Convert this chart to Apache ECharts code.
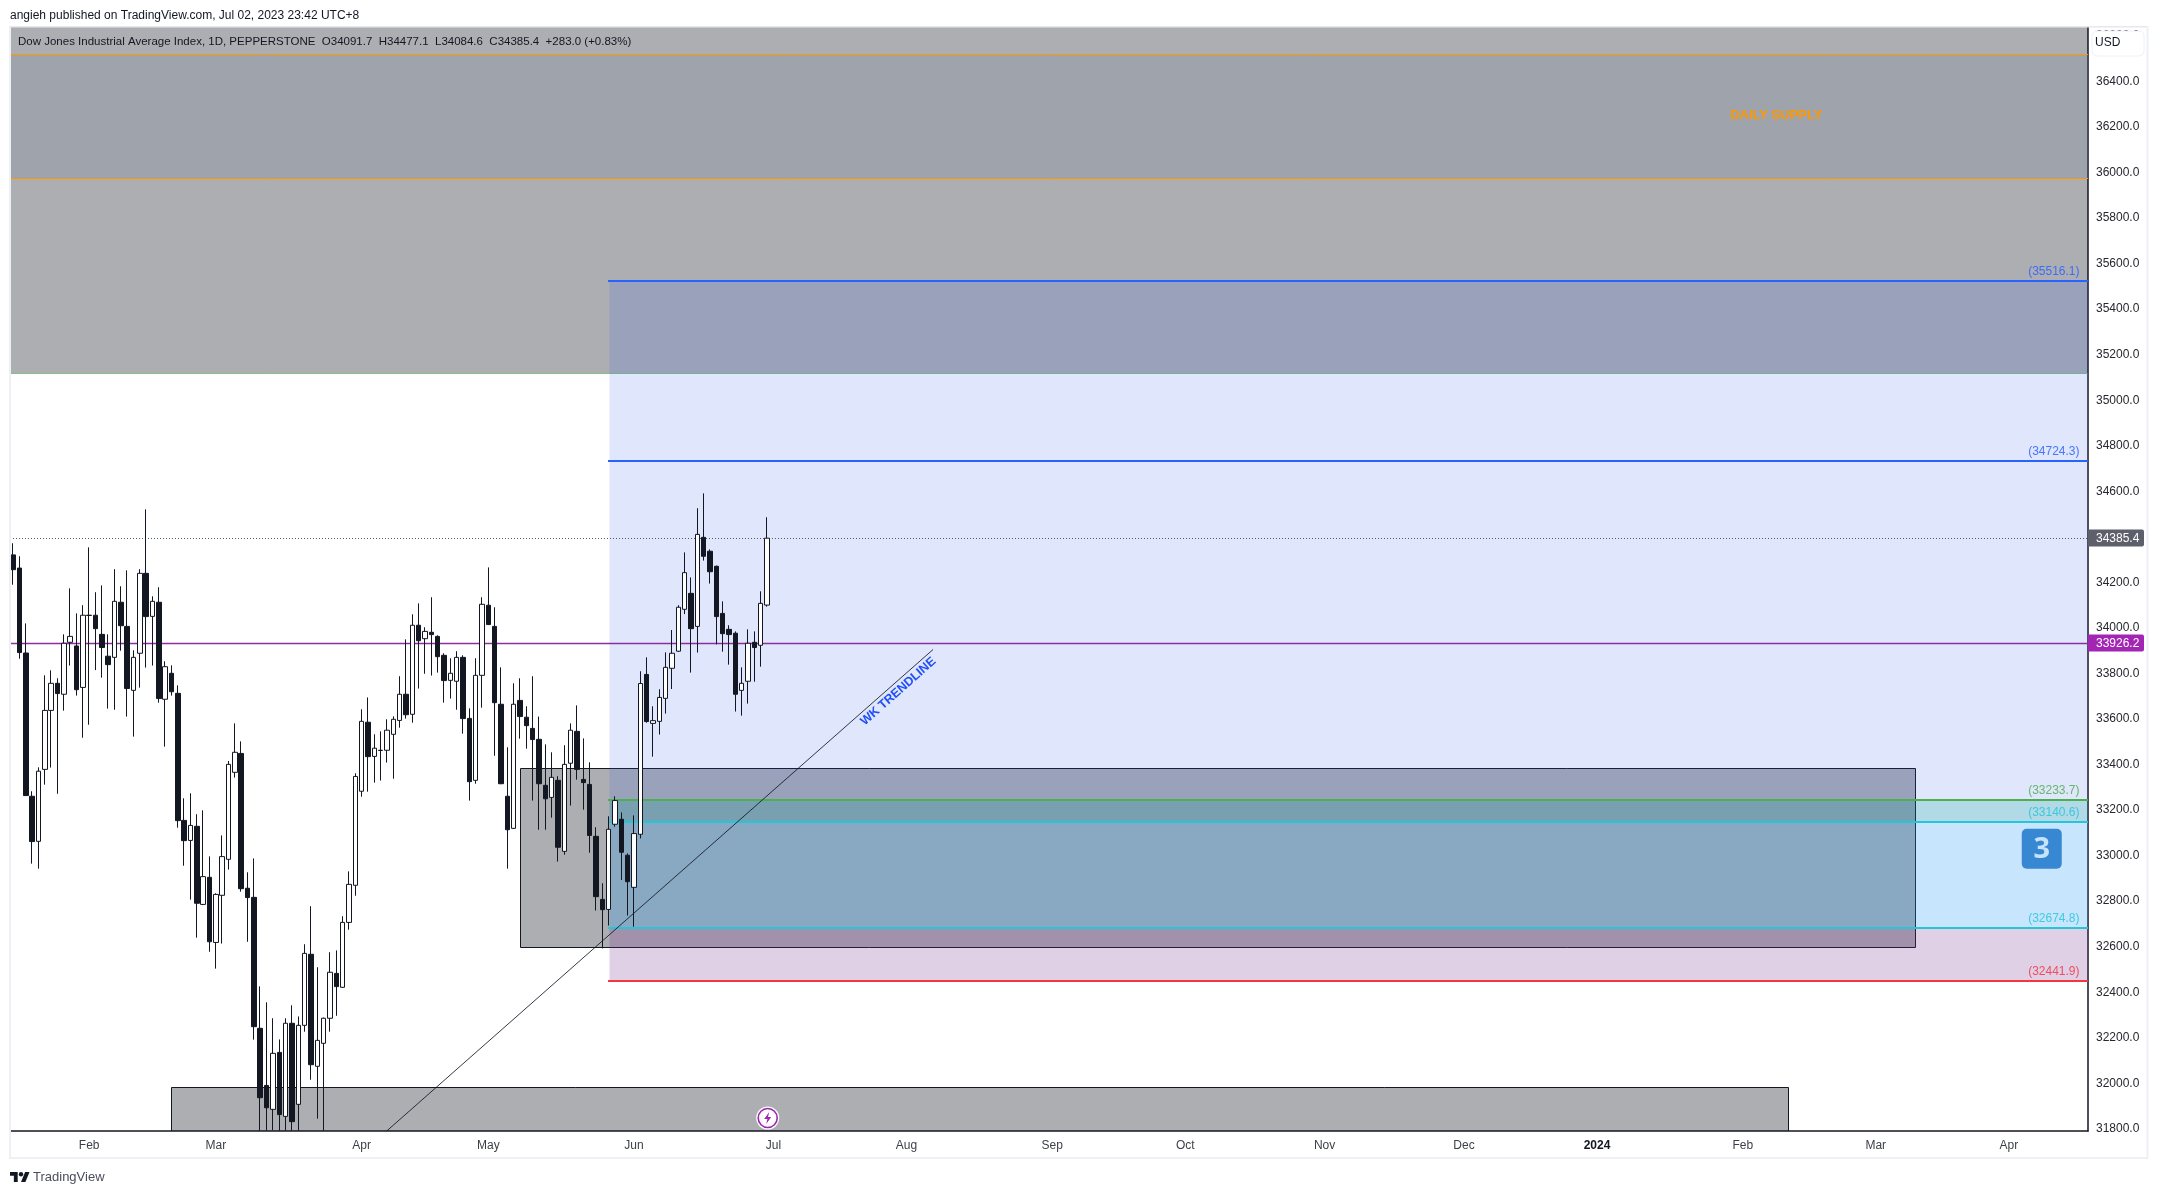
<!DOCTYPE html>
<html>
<head>
<meta charset="utf-8">
<style>html,body{margin:0;padding:0;background:#fff}#c{width:2158px;height:1194px}</style>
<script src="https://cdn.jsdelivr.net/npm/echarts@6/dist/echarts.min.js"></script>
</head>
<body>
<div id="c"></div>
<script>
// ---- candle values (prices) ----
const opens = [34312,34254,33881,33252,33054,33370,33629,33748,33700,33928,
33912,33730,34047,34047,33963,33867,33862,34104,33998,33717,
33880,34231,34042,34104,33678,33792,33704,33146,33058,33120,
32777,32896,32610,32817,32975,33357,33440,32848,32808,32233,
31982,31877,32127,31846,32255,31899,32246,32558,32066,32167,
32277,32474,32413,32698,32861,33274,33577,33427,33454,33454,
33524,33585,33700,33612,34003,33944,33972,33954,33871,33761,
33757,33862,33594,33322,33783,34091,33998,33656,33252,33111,
33673,33599,33550,33502,33300,33247,33322,33010,33397,33537,
33326,33304,33076,32799,32755,33129,33151,32993,32852,33085,
33787,33572,33581,33682,33814,33889,34073,34143,33998,34389,
34328,34262,34055,33985,33968,33717,33757,33928,33915,34091.7];
const closes = [34247,33883,33255,33053,33362,33629,33748,33703,33924,33954,
33720,34047,34046,33988,33905,33830,34108,34001,33725,33862,
34231,34041,34108,33681,33821,33711,33145,33057,33124,32782,
32899,32613,32821,32987,33392,33445,32846,32807,32240,31928,
31884,32123,31854,32255,31823,32246,32562,32073,32180,32277,
32479,32416,32698,32865,33339,33581,33426,33463,33453,33542,
33590,33700,33610,34003,33935,33976,33962,33865,33760,33792,
33862,33593,33316,33783,34095,34006,33663,33307,33105,33656,
33602,33562,33501,33307,33241,33335,33028,33392,33542,33370,
33312,33080,32811,32754,33107,33233,33006,32877,33088,33747,
33580,33584,33686,33818,33880,34082,34234,33988,34402,34306,
34238,34041,33966,33962,33700,33748,33924,33905,34099,34385.4];
const highs = [34363,34306,34011,33274,33379,33783,33805,33770,33963,34165,
34055,34091,34345,34148,34178,33963,34249,34174,34244,33893,
34249,34512,34130,34170,33845,33827,33739,33243,33265,33173,
33190,32988,32826,33080,33407,33572,33493,32918,32979,32417,
32347,32277,32184,32277,32334,32285,32602,32769,32501,32280,
32567,32575,32725,32922,33353,33634,33686,33524,33537,33590,
33603,33779,33941,34051,34099,33994,34126,33959,33880,33858,
33889,33871,33638,33858,34126,34257,34082,33818,33467,33748,
33770,33647,33779,33602,33480,33445,33340,33476,33572,33651,
33506,33401,33116,32870,33164,33252,33181,33001,33168,33801,
33862,33647,33722,33884,33982,34091,34323,34213,34517,34582,
34336,34265,34108,34003,33976,33818,33985,33976,34152,34477.1];
const lows = [34181,33856,33255,32956,32934,33303,33378,33263,33628,33826,
33694,33509,33566,33806,33773,33637,33632,33891,33602,33514,
33729,33817,33826,33663,33470,33694,33114,32947,32798,32631,
32774,32569,32495,32605,32930,33334,32833,32613,32183,31783,
31783,31786,31783,31783,31783,31783,32218,32007,31836,31783,
32218,32288,32410,32666,32815,33250,33272,33312,33321,33400,
33329,33553,33593,33575,33725,33790,33782,33795,33663,33681,
33632,33527,33233,33307,33641,34004,33430,33305,32934,33108,
33505,33461,33233,33105,33105,33158,32965,32995,33211,33325,
33193,33004,32750,32584,32684,33118,32884,32728,32679,33067,
33575,33426,33523,33615,33723,33886,34052,33795,33883,34287,
34186,33919,33887,33830,33624,33606,33659,33755,33821,34084.6];

// ---- axes ----
const barCount = 328;
const priceMin = 31781.9, priceMax = 36630.3;
const monthIndex = [12,32,55,75,98,120,141,164,185,207,229,250,273,294,315];
const monthLabels = ['Feb','Mar','Apr','May','Jun','Jul','Aug','Sep','Oct','Nov','Dec','2024','Feb','Mar','Apr'];
const priceTicks = [31800,32000,32200,32400,32600,32800,33000,33200,33400,33600,33800,34000,34200,34400,34600,34800,35000,35200,35400,35600,35800,36000,36200,36400,36600];

// ---- grey supply / demand zones ----
const zoneStart = [-0.5, -0.5, 80.05, 24.96];
const zoneEnd   = [327.5, 327.5, 300.2, 280.2];
const zoneTop   = [36700, 36510.4, 33374.8, 31973.7];
const zoneBot   = [35108.6, 35965.9, 32588.7, 31600];
const zoneFill  = ['rgba(19,23,34,0.35)','rgba(120,130,150,0.25)','rgba(19,23,34,0.35)','rgba(19,23,34,0.35)'];
const zoneStroke= ['rgba(76,175,80,0.6)','#ff9800','#131722','#131722'];

// ---- fib bands ----
const fibStart = 94.05, fibEnd = 327.5;
const fibTop = [35516.1, 33233.7, 33140.6, 32674.8];
const fibBot = [33233.7, 33140.6, 32674.8, 32441.9];
const fibFill = ['rgba(50,85,235,0.15)','rgba(0,128,172,0.30)','rgba(33,150,243,0.25)','rgba(121,52,148,0.23)'];

// ---- horizontal levels ----
const levelPrice = [35516.1, 34724.3, 33233.7, 33140.6, 32674.8, 32441.9];
const levelLabel = ['(35516.1)','(34724.3)','(33233.7)','(33140.6)','(32674.8)','(32441.9)'];
const levelColor = ['#2962ff','#2962ff','#4caf50','#26c6da','#26c6da','#f23645'];

const priceLine = [34385.4, 33926.2];
const priceLineColor = ['#555a66','#8e2da0'];
const priceTagText = ['34385.4','33926.2'];
const priceTagColor = ['#5d606b','#a325b4'];

// ---- trend line ----
const trendPoints = [[58.96,31781.9],[145.2,33896.5]];

// ---- annotations ----
const wkText = {x:139.7, price:33712, text:'WK TRENDLINE'};
const supplyText = {x:278.3, price:36243, text:'DAILY SUPPLY'};
const badge = {x:320.2, price:33021.7, text:'3'};
const bolt = {x:119.1, price:31839};

const categories = Array.from({length:barCount},(_,i)=>String(i));
const candleData = opens.map((o,i)=>[o,closes[i],lows[i],highs[i]]);
const FONT = '"Liberation Sans", Arial, sans-serif';

const chart = echarts.init(document.getElementById('c'),null,{renderer:'canvas'});

function rectOf(api, x0, x1, top, bot){
  const a = api.coord([x0, top]), b = api.coord([x1, bot]);
  const ax = Math.round(a[0])+0.5, bx = Math.round(b[0])+0.5, ay = Math.round(a[1])+0.5, by = Math.round(b[1])+0.5;
  return {x:ax, y:ay, width:bx-ax, height:by-ay};
}

const option = {
  animation:false,
  backgroundColor:'#ffffff',
  grid:{left:10,right:70,top:27,bottom:63,containLabel:false,show:false},
  xAxis:[{
    type:'category',data:categories,boundaryGap:true,
    axisLine:{show:true,lineStyle:{color:'#131722',width:1.5}},
    axisTick:{show:false},splitLine:{show:false},
    axisLabel:{
      show:true,margin:9,color:'#3c3f47',fontFamily:FONT,fontSize:12,hideOverlap:false,
      interval:(i)=>monthIndex.indexOf(+i)>=0,
      formatter:(v)=>{const k=monthIndex.indexOf(+v);const s=k>=0?monthLabels[k]:'';return s==='2024'?'{b|2024}':s;},
      rich:{b:{fontWeight:'bold',fontFamily:FONT,fontSize:12,color:'#131722'}}
    }
  },{
    type:'value',min:-0.5,max:327.5,show:false,splitLine:{show:false}
  }],
  yAxis:[{
    type:'value',position:'right',min:priceMin,max:priceMax,scale:true,
    axisLine:{show:true,onZero:false,lineStyle:{color:'#131722',width:1.5}},
    axisTick:{show:false},splitLine:{show:false},
    axisLabel:{show:true,customValues:priceTicks,margin:8,color:'#26282e',fontFamily:FONT,fontSize:12,
      formatter:(v)=>'{t|'+Number(v).toFixed(1)+'}',
      rich:{t:{padding:[4,0,0,0],color:'#26282e',fontFamily:FONT,fontSize:12}}}
  }],
  series:[
    {type:'custom',name:'zones',xAxisIndex:1,yAxisIndex:0,clip:true,z:1,silent:true,
      data:zoneStart.map((s,i)=>[s,zoneEnd[i],zoneTop[i],zoneBot[i]]),
      encode:{x:[0,1],y:[2,3]},
      renderItem:(p,api)=>({type:'rect',
        shape:rectOf(api,api.value(0),api.value(1),api.value(2),api.value(3)),
        style:{fill:zoneFill[p.dataIndex],stroke:zoneStroke[p.dataIndex],lineWidth:1}})
    },
    {type:'custom',name:'fib',xAxisIndex:1,yAxisIndex:0,clip:true,z:2,silent:true,
      data:fibTop.map((t,i)=>[fibStart,fibEnd,t,fibBot[i]]),
      encode:{x:[0,1],y:[2,3]},
      renderItem:(p,api)=>({type:'rect',
        shape:rectOf(api,api.value(0),api.value(1),api.value(2),api.value(3)),
        style:{fill:fibFill[p.dataIndex]}})
    },
    {type:'custom',name:'levels',xAxisIndex:1,yAxisIndex:0,clip:true,z:3,silent:true,
      data:levelPrice.map((v)=>[fibStart,fibEnd,v]),
      encode:{x:[0,1],y:2},
      renderItem:(p,api)=>{
        const a=api.coord([api.value(0),api.value(2)]),b=api.coord([api.value(1),api.value(2)]);
        const y=Math.round(a[1]);
        return {type:'group',children:[
          {type:'line',shape:{x1:a[0]-1,y1:y,x2:b[0],y2:y},style:{stroke:levelColor[p.dataIndex],lineWidth:2}},
          {type:'text',style:{text:levelLabel[p.dataIndex],x:b[0]-8.5,y:y-3,align:'right',verticalAlign:'bottom',
            fill:levelColor[p.dataIndex],opacity:0.85,font:'12px '+FONT}}
        ]};
      }
    },
    {type:'custom',name:'priceLines',xAxisIndex:1,yAxisIndex:0,clip:true,z:3,silent:true,
      data:priceLine.map((v)=>[-0.5,327.5,v]),
      encode:{x:[0,1],y:2},
      renderItem:(p,api)=>{
        const a=api.coord([api.value(0),api.value(2)]),b=api.coord([api.value(1),api.value(2)]);
        const y=Math.round(a[1])+0.5;
        return {type:'line',shape:{x1:a[0],y1:y,x2:b[0],y2:y},
          style:{stroke:priceLineColor[p.dataIndex],lineWidth:p.dataIndex?1.5:1,lineDash:p.dataIndex?null:[1,2]}};
      }
    },
    {type:'line',name:'trend',xAxisIndex:1,yAxisIndex:0,z:3,silent:true,symbol:'none',clip:true,
      data:trendPoints,lineStyle:{color:'#131722',width:1,opacity:0.85}},
    {type:'candlestick',name:'DJI',xAxisIndex:0,yAxisIndex:0,z:5,silent:true,clip:true,
      barWidth:5,data:candleData,
      itemStyle:{color:'#ffffff',color0:'#131722',borderColor:'#131722',borderColor0:'#131722',borderWidth:1}},
    {type:'custom',name:'annot',xAxisIndex:1,yAxisIndex:0,clip:false,z:6,silent:true,
      data:[[wkText.x,wkText.price],[supplyText.x,supplyText.price],[badge.x,badge.price],[bolt.x,bolt.price]],
      encode:{x:0,y:1},
      renderItem:(p,api)=>{
        const c=api.coord([api.value(0),api.value(1)]);
        if(p.dataIndex===0) return {type:'text',x:c[0],y:c[1],rotation:0.725,
          style:{text:wkText.text,align:'center',verticalAlign:'middle',fill:'#2050f5',font:'bold 12.5px '+FONT}};
        if(p.dataIndex===1) return {type:'text',x:c[0],y:c[1],
          style:{text:supplyText.text,align:'center',verticalAlign:'middle',fill:'#ff9800',font:'bold 13px '+FONT}};
        if(p.dataIndex===2) return {type:'group',children:[
          {type:'rect',shape:{x:c[0]-20,y:c[1]-20,width:40,height:40,r:5},style:{fill:'#3787d3'}},
          {type:'text',style:{text:badge.text,x:c[0],y:c[1]+1,align:'center',verticalAlign:'middle',fill:'#c6e3fc',font:'bold 29px "Noto Sans", '+FONT}}
        ]};
        return {type:'group',children:[
          {type:'circle',shape:{cx:c[0],cy:c[1],r:11.5},style:{fill:'#ffffff'}},
          {type:'circle',shape:{cx:c[0],cy:c[1],r:9.5},style:{fill:'#ffffff',stroke:'#9c27b0',lineWidth:1.6}},
          {type:'polygon',shape:{points:[[c[0]+1.5,c[1]-6],[c[0]-3.5,c[1]+1],[c[0]-0.3,c[1]+1],[c[0]-1.5,c[1]+6],[c[0]+3.5,c[1]-1],[c[0]+0.3,c[1]-1]]},style:{fill:'#9c27b0'}}
        ]};
      }
    },
    {type:'custom',name:'tags',xAxisIndex:1,yAxisIndex:0,clip:false,z:7,silent:true,
      data:priceLine.map((v)=>[327.5,v]),
      encode:{x:0,y:1},
      renderItem:(p,api)=>{
        const c=api.coord([api.value(0),api.value(1)]);
        const y=Math.round(c[1]);
        return {type:'group',children:[
          {type:'rect',shape:{x:c[0],y:y-8.5,width:56,height:17,r:[0,2,2,0]},style:{fill:priceTagColor[p.dataIndex]}},
          {type:'text',style:{text:priceTagText[p.dataIndex],x:c[0]+8,y:y+0.5,align:'left',verticalAlign:'middle',fill:'#ffffff',font:'12px '+FONT}}
        ]};
      }
    }
  ],
  graphic:[
    // pane frame
    {type:'rect',silent:true,z:50,shape:{x:9,y:26,width:2,height:1132},style:{fill:'#eef0f6'}},
    {type:'rect',silent:true,z:50,shape:{x:9,y:26,width:2139,height:1.5},style:{fill:'#e6e8ee'}},
    {type:'rect',silent:true,z:50,shape:{x:2146.5,y:26,width:2,height:1132},style:{fill:'#eef0f6'}},
    {type:'rect',silent:true,z:50,shape:{x:9,y:1157,width:2139,height:2},style:{fill:'#eef0f6'}},
    // header
    {type:'text',silent:true,z:60,style:{text:'angieh published on TradingView.com, Jul 02, 2023 23:42 UTC+8',x:10,y:16,verticalAlign:'middle',fill:'#131722',font:'12px '+FONT}},
    {type:'text',silent:true,z:60,style:{text:'Dow Jones Industrial Average Index, 1D, PEPPERSTONE  O34091.7  H34477.1  L34084.6  C34385.4  +283.0 (+0.83%)',x:18,y:41.5,verticalAlign:'middle',fill:'#131722',font:'11.5px '+FONT}},
    // USD
    {type:'rect',silent:true,z:60,shape:{x:2092,y:31,width:52,height:25,r:5},style:{fill:'#ffffff',stroke:'#eef0f6',lineWidth:1}},
    {type:'text',silent:true,z:61,style:{text:'USD',x:2095,y:43,verticalAlign:'middle',fill:'#131722',font:'12px '+FONT}},
    // footer
    {type:'group',silent:true,z:60,x:10,y:1169.8,scaleX:0.55,scaleY:0.55,children:[
      {type:'polygon',shape:{points:[[14,22],[7,22],[7,11],[0,11],[0,4],[14,4]]},style:{fill:'#131722'}},
      {type:'polygon',shape:{points:[[28,22],[20,22],[27.5,4],[35.5,4]]},style:{fill:'#131722'}},
      {type:'circle',shape:{cx:20,cy:8,r:4},style:{fill:'#131722'}}
    ]},
    {type:'text',silent:true,z:60,style:{text:'TradingView',x:33,y:1177,verticalAlign:'middle',fill:'#4a4e5a',font:'13px '+FONT}}
  ]
};
chart.setOption(option);
</script>
</body>
</html>
